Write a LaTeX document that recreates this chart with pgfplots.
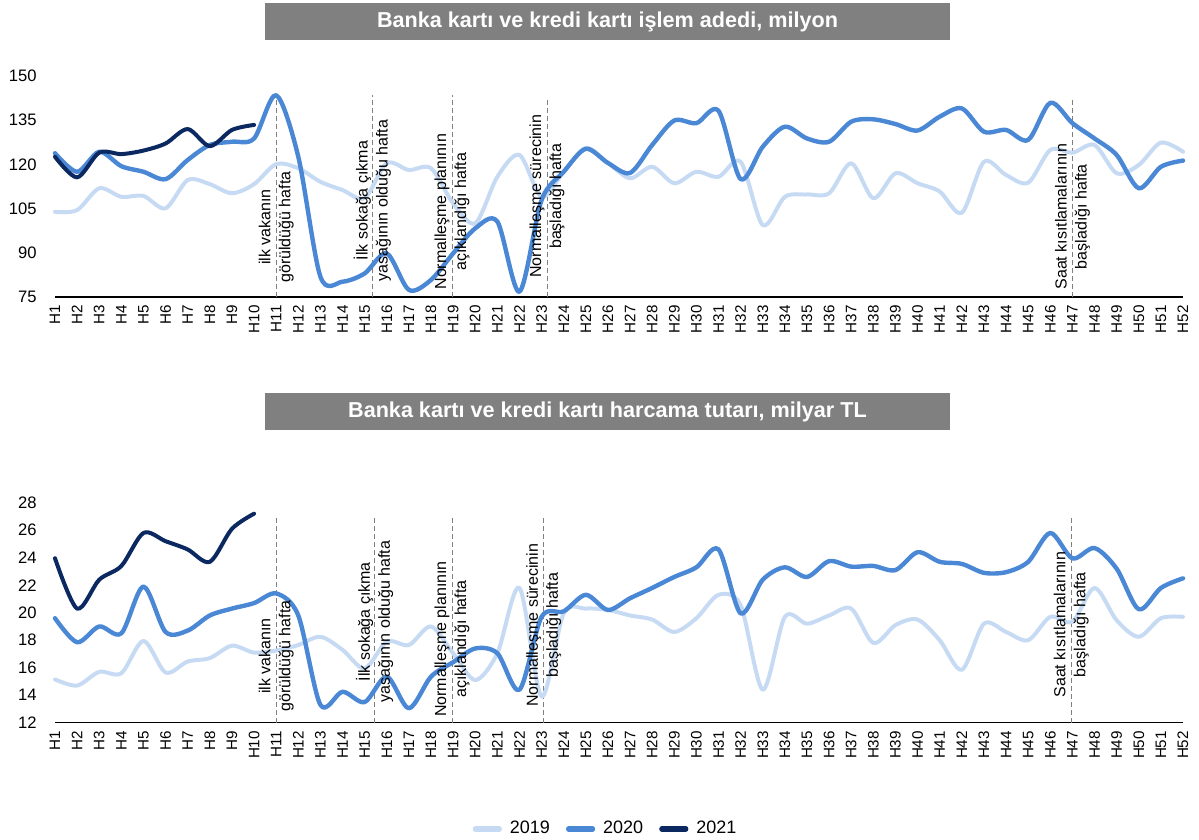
\documentclass[border=0pt]{standalone}
\usepackage{pgfplots}
\pgfplotsset{compat=1.18}
\usepackage{fontspec}
\setmainfont{Liberation Sans}
\definecolor{c19}{HTML}{C6DBF3}
\definecolor{c20}{HTML}{4A88D6}
\definecolor{c21}{HTML}{0B2861}
\definecolor{titlegray}{HTML}{808080}
\definecolor{dashgray}{HTML}{7F7F7F}

\tikzset{
 dl/.style={dashgray, line width=0.5pt, dash pattern=on 2.5pt off 1.5pt},
 an/.style={rotate=90, anchor=west, align=center, inner sep=0pt, font=\fontsize{8}{10}\selectfont},
}
\pgfplotsset{
 common/.style={
  scale only axis, width=564pt, xmin=1, xmax=52,
  axis x line*=bottom, axis y line*=left,
  y axis line style={draw=none},
  x axis line style={black, line width=0.6pt},
  major tick length=0pt,
  xtick={1,...,52},
  xticklabels={H1,H2,H3,H4,H5,H6,H7,H8,H9,H10,H11,H12,H13,H14,H15,H16,H17,H18,H19,H20,H21,H22,H23,H24,H25,H26,H27,H28,H29,H30,H31,H32,H33,H34,H35,H36,H37,H38,H39,H40,H41,H42,H43,H44,H45,H46,H47,H48,H49,H50,H51,H52},
  xticklabel style={rotate=90, anchor=east, inner sep=4pt, font=\fontsize{7.6}{9}\selectfont},
  yticklabel style={inner sep=0pt, xshift=-9pt, font=\fontsize{8.3}{10}\selectfont},
  /pgf/number format/assume math mode=true,
  clip=false,
 },
 s19/.style={c19, line width=2pt, smooth, line join=round, line cap=round},
 s20/.style={c20, line width=2.2pt, smooth, line join=round, line cap=round},
 s21/.style={c21, line width=2pt, smooth, line join=round, line cap=round},
}

\begin{document}
\begin{tikzpicture}
\path[use as bounding box] (0pt,0pt) rectangle (599.5pt,-420pt);

\fill[titlegray] (132.5pt,-1.5pt) rectangle (475pt,-20pt);
\node[text=white, font=\bfseries\fontsize{10.8}{12}\selectfont] at (303.75pt,-10.75pt) {Banka kartı ve kredi kartı işlem adedi, milyon};
\fill[titlegray] (132.5pt,-196.5pt) rectangle (475pt,-215pt);
\node[text=white, font=\bfseries\fontsize{10.8}{12}\selectfont] at (303.75pt,-205.75pt) {Banka kartı ve kredi kartı harcama tutarı, milyar TL};

\begin{axis}[common, at={(27.5pt,-148.5pt)}, anchor=south west, height=110.5pt,
  ymin=75, ymax=150, ytick={75,90,105,120,135,150}]
\draw[dl] (axis cs:11,75) -- (axis cs:11,143.5);
\draw[dl] (axis cs:15.35,75) -- (axis cs:15.35,143.5);
\draw[dl] (axis cs:18.95,75) -- (axis cs:18.95,143.5);
\draw[dl] (axis cs:23.25,75) -- (axis cs:23.25,142.5);
\draw[dl] (axis cs:47,75) -- (axis cs:47,142.5);
\addplot[s19] coordinates {(1,103.9)(2,104.5)(3,111.9)(4,109.0)(5,109.3)(6,105.1)(7,114.7)(8,113.3)(9,110.2)(10,113.3)(11,120.1)(12,118.7)(13,114.1)(14,111.3)(15,108.6)(16,120.4)(17,118.1)(18,118.7)(19,106.8)(20,100.0)(21,115.8)(22,123.2)(23,109.0)(24,117.5)(25,125.6)(26,120.5)(27,115.3)(28,119.2)(29,113.6)(30,117.5)(31,115.8)(32,120.9)(33,99.4)(34,109.0)(35,109.8)(36,110.2)(37,120.4)(38,108.5)(39,117.0)(40,113.6)(41,110.8)(42,103.6)(43,120.9)(44,116.4)(45,113.8)(46,124.9)(47,124.0)(48,126.6)(49,117.0)(50,119.8)(51,127.4)(52,124.3)};
\addplot[s20] coordinates {(1,123.8)(2,117.5)(3,124.3)(4,119.4)(5,117.5)(6,115.0)(7,121.5)(8,126.6)(9,127.7)(10,128.8)(11,143.5)(12,122.6)(13,81.9)(14,80.2)(15,83.0)(16,89.8)(17,77.4)(18,80.8)(19,89.8)(20,98.3)(21,100.6)(22,76.8)(23,107.9)(24,117.5)(25,125.3)(26,120.5)(27,117.1)(28,126.6)(29,134.9)(30,134.0)(31,138.2)(32,115.0)(33,126.0)(34,132.8)(35,128.8)(36,127.7)(37,134.5)(38,135.3)(39,133.7)(40,131.5)(41,136.2)(42,139.0)(43,131.1)(44,131.7)(45,128.3)(46,140.9)(47,134.0)(48,128.8)(49,123.2)(50,111.9)(51,119.2)(52,121.3)};
\addplot[s21] coordinates {(1,122.6)(2,115.6)(3,124.0)(4,123.5)(5,124.7)(6,127.1)(7,132.0)(8,126.2)(9,131.7)(10,133.4)};
\node[an] at (axis cs:11,79.75) {ilk vakanın\\görüldüğü hafta};
\node[an] at (axis cs:15.35,80.1) {İlk sokağa çıkma\\yasağının olduğu hafta};
\node[an] at (axis cs:18.95,77.4) {Normalleşme planının\\açıklandığı hafta};
\node[an] at (axis cs:23.25,81.4) {Normalleşme sürecinin\\başladığı hafta};
\node[an] at (axis cs:47,77.4) {Saat kısıtlamalarının\\başladığı hafta};
\end{axis}

\begin{axis}[common, at={(27.5pt,-361.35pt)}, anchor=south west, height=110pt,
  ymin=12, ymax=28, ytick={12,14,...,28},
  legend columns=3,
  legend style={at={(0.489,-0.483)}, anchor=center, draw=none, fill=none,
    font=\fontsize{9}{11}\selectfont,
    /tikz/every odd column/.append style={column sep=2pt},
    /tikz/every even column/.append style={column sep=6pt}},
  legend image code/.code={\draw[#1, line width=2.6pt, line cap=round] (0pt,0pt) -- (12pt,0pt);}]
\draw[dl] (axis cs:11,12) -- (axis cs:11,27);
\draw[dl] (axis cs:15.45,12) -- (axis cs:15.45,27);
\draw[dl] (axis cs:18.95,12) -- (axis cs:18.95,27);
\draw[dl] (axis cs:23.1,12) -- (axis cs:23.1,27);
\draw[dl] (axis cs:46.95,12) -- (axis cs:46.95,27);
\addplot[s19] coordinates {(1,15.15)(2,14.7)(3,15.7)(4,15.6)(5,17.95)(6,15.65)(7,16.45)(8,16.7)(9,17.6)(10,17.1)(11,17.25)(12,17.65)(13,18.25)(14,17.3)(15,15.95)(16,17.9)(17,17.65)(18,19.0)(19,17.05)(20,15.1)(21,17.05)(22,21.8)(23,13.9)(24,19.95)(25,20.3)(26,20.2)(27,19.8)(28,19.5)(29,18.6)(30,19.6)(31,21.3)(32,20.55)(33,14.4)(34,19.7)(35,19.2)(36,19.8)(37,20.3)(38,17.8)(39,19.1)(40,19.5)(41,18.0)(42,15.85)(43,19.2)(44,18.6)(45,18.0)(46,19.7)(47,19.35)(48,21.8)(49,19.45)(50,18.25)(51,19.6)(52,19.7)};
\addlegendentry{2019}
\addplot[s20] coordinates {(1,19.6)(2,17.85)(3,19.0)(4,18.5)(5,21.9)(6,18.6)(7,18.7)(8,19.8)(9,20.3)(10,20.7)(11,21.4)(12,19.8)(13,13.3)(14,14.25)(15,13.5)(16,15.35)(17,13.05)(18,15.35)(19,16.4)(20,17.4)(21,17.05)(22,14.4)(23,19.7)(24,20.1)(25,21.3)(26,20.2)(27,21.05)(28,21.8)(29,22.6)(30,23.3)(31,24.6)(32,19.95)(33,22.4)(34,23.3)(35,22.6)(36,23.75)(37,23.35)(38,23.4)(39,23.1)(40,24.4)(41,23.7)(42,23.55)(43,22.9)(44,22.95)(45,23.7)(46,25.8)(47,23.95)(48,24.7)(49,23.2)(50,20.25)(51,21.8)(52,22.5)};
\addlegendentry{2020}
\addplot[s21] coordinates {(1,23.96)(2,20.3)(3,22.4)(4,23.4)(5,25.8)(6,25.2)(7,24.6)(8,23.7)(9,26.1)(10,27.2)};
\addlegendentry{2021}
\node[an] at (axis cs:11,12.78) {ilk vakanın\\görüldüğü hafta};
\node[an] at (axis cs:15.45,13.43) {İlk sokağa çıkma\\yasağının olduğu hafta};
\node[an] at (axis cs:18.95,12.4) {Normalleşme planının\\açıklandığı hafta};
\node[an] at (axis cs:23.1,13.14) {Normalleşme sürecinin\\başladığı hafta};
\node[an] at (axis cs:46.95,13.8) {Saat kısıtlamalarının\\başladığı hafta};
\end{axis}
\end{tikzpicture}
\end{document}
